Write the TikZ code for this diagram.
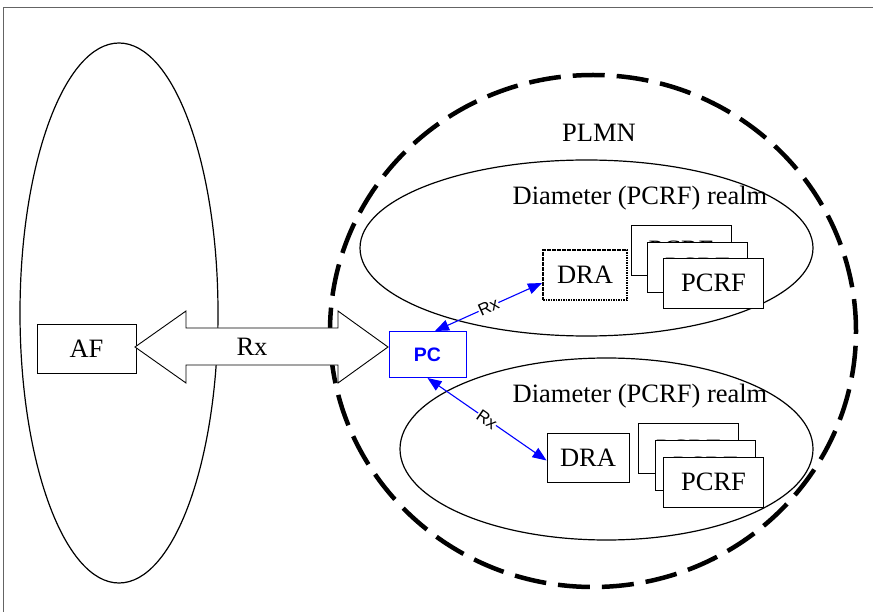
\documentclass[tikz,border=0pt]{standalone}
\usepackage{fontspec}
\setmainfont{Liberation Serif}
\newfontfamily\arialfont{Liberation Sans}
\usetikzlibrary{arrows.meta,calc}
\definecolor{pcblue}{RGB}{0,0,255}
\definecolor{framegray}{RGB}{100,100,100}
\begin{document}
\begin{tikzpicture}[x=1pt,y=-1pt,
  big/.style={font=\fontsize{26.5}{30}\selectfont},
  box/.style={draw, line width=0.9pt, fill=white, inner sep=0pt, big},
  pcrfbox/.style={box, minimum width=100pt, minimum height=50pt},
  realm/.style={line width=1.2pt},
  plmn/.style={line width=4.5pt, dash pattern=on 32pt off 12pt},
  rxlink/.style={pcblue, line width=1.1pt, {Triangle[length=14pt,width=11pt]}-{Triangle[length=14pt,width=11pt]}},
  rxlabel/.style={font=\arialfont\fontsize{17}{18}\selectfont, text=black, fill=white, inner sep=0.3pt, sloped, pos=0.5},
]
\useasboundingbox (0,0) rectangle (873,612);
% frame (top and left only)
\draw[framegray, line width=1pt] (3,612) -- (3,8) -- (873,8);

% AF domain ellipse
\draw[realm] (119,313) ellipse [x radius=99pt, y radius=270pt];
% PLMN dashed ellipse
\draw[plmn] (593,331) ellipse [x radius=263pt, y radius=256pt];
% realms
\draw[realm] (586.5,248) ellipse [x radius=226.5pt, y radius=88pt];
\draw[realm] (606.5,449) ellipse [x radius=206.5pt, y radius=91pt];

% labels
\node[big] (plmnlbl) at (599,133) {PLMN};
\node[big] (realm1lbl) at (640,198) {Diameter (PCRF) realm};
\node[big] (realm2lbl) at (640,396) {Diameter (PCRF) realm};

% nodes
\node[box, minimum width=99pt, minimum height=49pt] (AF) at (86.5,348.5) {AF};
\node[draw=pcblue, line width=1pt, fill=white, minimum width=77pt, minimum height=46pt, inner sep=0pt,
      text=pcblue, font=\arialfont\bfseries\fontsize{19.5}{22}\selectfont] (PC) at (427.5,354.5) {PC};

% big Rx double arrow
\draw[line width=0.9pt, fill=white] (135,347) -- (186,311) -- (186,328) -- (338,328) -- (338,311)
  -- (388,347) -- (338,383) -- (338,365) -- (186,365) -- (186,383) -- cycle;
\node[big] (rxbig) at (252,347) {Rx};

% upper realm
\node[box, minimum width=84pt, minimum height=50pt, line width=2pt, dash pattern=on 1.6pt off 0.9pt] (DRA1) at (585,275) {DRA};
\node[pcrfbox] (P1a) at (681,250) {PCRF};
\node[pcrfbox] (P1b) at (697.5,267) {PCRF};
\node[pcrfbox] (P1c) at (713.5,283) {PCRF};

% lower realm
\node[box, minimum width=82pt, minimum height=49pt] (DRA2) at (588,457.5) {DRA};
\node[pcrfbox] (P2a) at (688.5,448.5) {PCRF\hspace{16pt}};
\node[pcrfbox] (P2b) at (705.5,465.5) {PCRF};
\node[pcrfbox] (P2c) at (713.5,482) {PCRF};

% Rx links
\draw[rxlink] ([xshift=7.5pt]PC.north) -- node[rxlabel] {Rx} ([yshift=-8pt]DRA1.west);
\draw[rxlink] (PC.south) -- node[rxlabel] {Rx} ([yshift=-3pt]DRA2.west);
\end{tikzpicture}
\end{document}
